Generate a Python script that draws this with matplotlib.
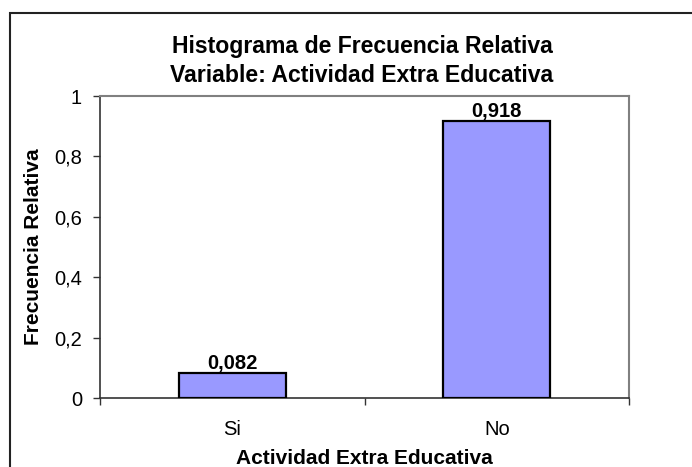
import matplotlib
matplotlib.use("Agg")
import matplotlib.pyplot as plt
from matplotlib.patches import Rectangle
from matplotlib.transforms import blended_transform_factory

categorias = ["Si", "No"]
frecuencias = [0.082, 0.918]
etiquetas = ["0,082", "0,918"]
yticks = [0, 0.2, 0.4, 0.6, 0.8, 1]
yticklabels = ["0", "0,2", "0,4", "0,6", "0,8", "1"]

plt.rcParams["font.family"] = ["Liberation Sans", "DejaVu Sans"]

W, H = 692, 467
fig = plt.figure(figsize=(W / 100, H / 100), dpi=100)
ax = fig.add_axes([100 / W, 69 / H, 529 / W, 302 / H])

# marco exterior (estilo Excel)
fig.patches.append(Rectangle((10 / W, -0.05), 1.1, 1 - 13 / H + 0.05,
                             transform=fig.transFigure, fill=False,
                             edgecolor="#222222", lw=1.5))

x = list(range(len(categorias)))
ax.bar(x, frecuencias, width=0.405, color="#9999FF", edgecolor="black", lw=1.6, zorder=3)
for xi, v, t in zip(x, frecuencias, etiquetas):
    ax.annotate(t, (xi, v), xytext=(0, 3), textcoords="offset points",
                ha="center", va="baseline", fontsize=14.5, fontweight="bold")

ax.set_xlim(-0.5, len(categorias) - 0.5)
ax.set_ylim(0, 1)
ax.set_yticks(yticks)
ax.set_yticklabels(yticklabels, fontsize=14.5)
ax.set_xticks([i - 0.5 for i in range(len(categorias) + 1)])
ax.set_xticklabels([])
ax.tick_params(axis="both", which="major", length=5, width=1, direction="out", color="#333333")
ax.tick_params(axis="y", pad=8)

# etiquetas de categoria
tr = blended_transform_factory(ax.transData, fig.transFigure)
for xi, c in zip(x, categorias):
    ax.text(xi, 1 - 435 / H, c, transform=tr, ha="center", va="baseline", fontsize=14.5)

for s in ["top", "right"]:
    ax.spines[s].set_color("#808080")
    ax.spines[s].set_linewidth(1.5)
for s in ["left", "bottom"]:
    ax.spines[s].set_color("#333333")
    ax.spines[s].set_linewidth(1.2)

ax.set_ylabel("Frecuencia Relativa", fontsize=15, fontweight="bold", va="center")
ax.yaxis.set_label_coords((33 - 100) / 529, 0.5)
fig.text(0.5 * (100 + 629) / W, 1 - 464 / H, "Actividad Extra Educativa", ha="center", va="baseline",
         fontsize=15, fontweight="bold")
fig.text(362 / W, 1 - 53 / H, "Histograma de Frecuencia Relativa", ha="center",
         va="baseline", fontsize=16.6, fontweight="bold")
fig.text(362 / W, 1 - 82 / H, "Variable: Actividad Extra Educativa", ha="center",
         va="baseline", fontsize=16.6, fontweight="bold")

fig.savefig("out.png", dpi=100)
